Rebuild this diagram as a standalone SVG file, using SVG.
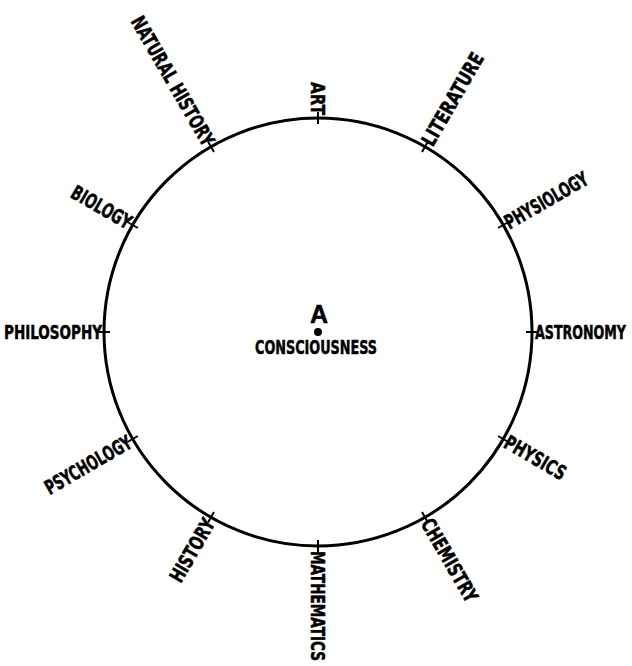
<svg xmlns="http://www.w3.org/2000/svg" width="632" height="666" viewBox="0 0 632 666">
<style>
.lbl{font-family:"Liberation Sans Narrow","DejaVu Sans Condensed","Liberation Sans",sans-serif;font-weight:bold;font-size:20px;fill:#000;stroke:#000;stroke-width:0.5}
.tick{stroke:#000;stroke-width:2;fill:none}
.ring{stroke:#000;stroke-width:3;fill:none}
</style>
<rect width="632" height="666" fill="#fff"/>
<g id="circle"><circle class="ring" cx="318" cy="332" r="214"/></g>
<g id="connectors">
<line class="tick" x1="318" y1="124" x2="318" y2="112"/>
<line class="tick" x1="422" y1="151.9" x2="428" y2="141.5"/>
<line class="tick" x1="498.1" y1="228" x2="508.5" y2="222"/>
<line class="tick" x1="526" y1="332" x2="538" y2="332"/>
<line class="tick" x1="498.1" y1="436" x2="508.5" y2="442"/>
<line class="tick" x1="422" y1="512.1" x2="428" y2="522.5"/>
<line class="tick" x1="318" y1="540" x2="318" y2="552"/>
<line class="tick" x1="214" y1="512.1" x2="208" y2="522.5"/>
<line class="tick" x1="137.9" y1="436" x2="127.5" y2="442"/>
<line class="tick" x1="110" y1="332" x2="98" y2="332"/>
<line class="tick" x1="137.9" y1="228" x2="127.5" y2="222"/>
<line class="tick" x1="214" y1="151.9" x2="208" y2="141.5"/>
</g>
<g id="art"><text class="lbl" transform="translate(318,115) rotate(90)" text-anchor="end" dy="0.36em" textLength="33" lengthAdjust="spacingAndGlyphs">ART</text></g>
<g id="literature"><text class="lbl" transform="translate(426.5,144.1) rotate(-60)" dy="0.36em" textLength="104" lengthAdjust="spacingAndGlyphs">LITERATURE</text></g>
<g id="physiology"><text class="lbl" transform="translate(505.9,223.5) rotate(-30)" dy="0.36em" textLength="93" lengthAdjust="spacingAndGlyphs">PHYSIOLOGY</text></g>
<g id="astronomy"><text class="lbl" transform="translate(535,332)" dy="0.36em" textLength="91" lengthAdjust="spacingAndGlyphs">ASTRONOMY</text></g>
<g id="physics"><text class="lbl" transform="translate(505.9,440.5) rotate(30)" dy="0.36em" textLength="68" lengthAdjust="spacingAndGlyphs">PHYSICS</text></g>
<g id="chemistry"><text class="lbl" transform="translate(426.5,519.9) rotate(60)" dy="0.36em" textLength="93" lengthAdjust="spacingAndGlyphs">CHEMISTRY</text></g>
<g id="mathematics"><text class="lbl" transform="translate(318,551) rotate(90)" dy="0.36em" textLength="110" lengthAdjust="spacingAndGlyphs">MATHEMATICS</text></g>
<g id="history"><text class="lbl" transform="translate(209.5,519.9) rotate(-60)" text-anchor="end" dy="0.36em" textLength="70" lengthAdjust="spacingAndGlyphs">HISTORY</text></g>
<g id="psychology"><text class="lbl" transform="translate(130.1,440.5) rotate(-30)" text-anchor="end" dy="0.36em" textLength="97" lengthAdjust="spacingAndGlyphs">PSYCHOLOGY</text></g>
<g id="philosophy"><text class="lbl" transform="translate(102,332)" text-anchor="end" dy="0.36em" textLength="98" lengthAdjust="spacingAndGlyphs">PHILOSOPHY</text></g>
<g id="biology"><text class="lbl" transform="translate(130.1,223.5) rotate(30)" text-anchor="end" dy="0.36em" textLength="66" lengthAdjust="spacingAndGlyphs">BIOLOGY</text></g>
<g id="natural-history"><text class="lbl" transform="translate(209.5,144.1) rotate(60)" text-anchor="end" dy="0.36em" textLength="146" lengthAdjust="spacingAndGlyphs">NATURAL HISTORY</text></g>
<g id="consciousness">
<text class="lbl" x="319" y="323" text-anchor="middle" style="font-family:'Liberation Sans',sans-serif;font-size:25px">A</text>
<circle cx="318" cy="332" r="4" fill="#000"/>
<text class="lbl" x="316" y="354" text-anchor="middle" textLength="122" lengthAdjust="spacingAndGlyphs">CONSCIOUSNESS</text>
</g>
</svg>
